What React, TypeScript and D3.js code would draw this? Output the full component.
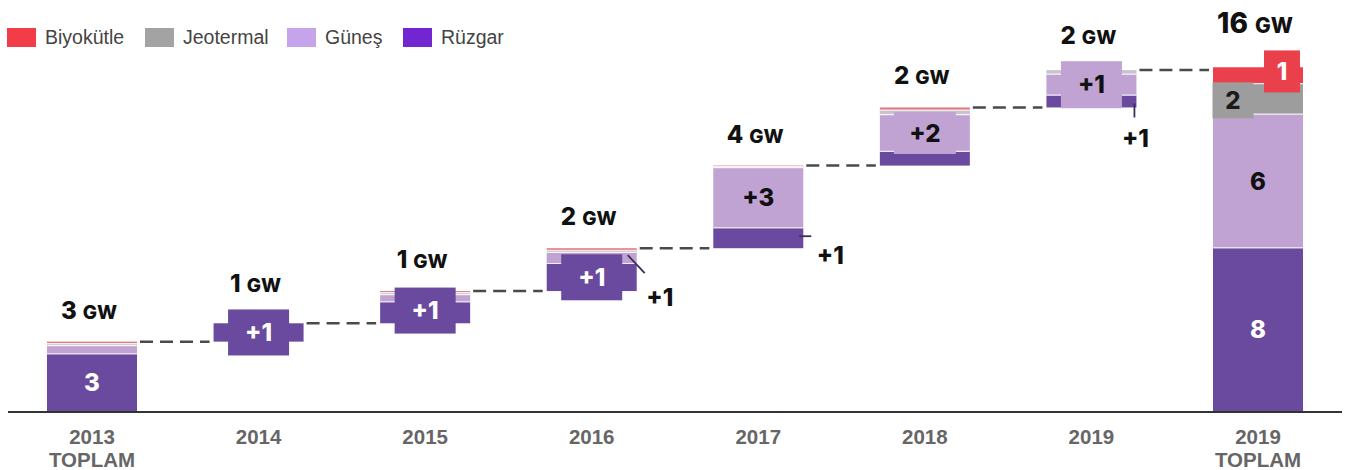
import React from 'react';
import * as d3 from 'd3';

// ---------------- DATA ----------------
const categories = ['2013 TOPLAM', '2014', '2015', '2016', '2017', '2018', '2019', '2019 TOPLAM'];
const isTotal = [true, false, false, false, false, false, false, true];
const seriesKeys = ['wind', 'solar', 'geo', 'bio']; // stack order bottom -> top
const legendNames = ['Biyokütle', 'Jeotermal', 'Güneş', 'Rüzgar'];
const legendKeys = ['bio', 'geo', 'solar', 'wind'];

// estimated bar heights (GW)
const windValues = [2.8, 0.9, 1.05, 1.35, 1.0, 0.7, 0.6, 8.0];
const solarValues = [0.4, 0, 0.35, 0.55, 2.95, 1.8, 1.03, 6.55];
const geoValues = [0.1, 0, 0.1, 0.1, 0.05, 0.22, 0.2, 1.5];
const bioValues = [0.1, 0, 0.08, 0.1, 0.05, 0.13, 0, 0.8];

// printed labels
const totalLabels = ['3', '1', '1', '2', '4', '2', '2', '16'];
const windLabels = ['3', '+1', '+1', '+1', '+1', '', '+1', '8'];
const solarLabels = ['', '', '', '+1', '+3', '+2', '+1', '6'];
const geoLabels = ['', '', '', '', '', '', '', '2'];
const bioLabels = ['', '', '', '', '', '', '', '1'];

// ---------------- STYLE / LAYOUT ----------------
const W = 1351;
const H = 470;
const BASE_Y = 411;
const PX_PER_GW = 20.4;
const BAR_W = 90;

const barColors: Record<string, string> = {
  wind: '#6a4a9e',
  solar: '#c0a3d3',
  geo: '#9d9d9d',
  bio: '#e9404b',
};
const thinColors: Record<string, string> = {
  geo: '#c9c3cf',
  bio: '#e07a80',
};
const legendColors: Record<string, string> = {
  bio: '#f23d48',
  geo: '#a3a3a3',
  solar: '#c6a4ec',
  wind: '#7126d0',
};
const labelColors: Record<string, string> = {
  wind: '#ffffff',
  solar: '#111111',
  geo: '#1a1a1a',
  bio: '#ffffff',
};
const legendX = [7, 145, 287, 403];

// label boxes: [categoryIndex, seriesKey, dx, dy, width, height]
const labelBoxes: [number, string, number, number, number, number][] = [
  [1, 'wind', 0, 0, 61, 46],
  [2, 'wind', 0, -2, 61, 46],
  [3, 'wind', 0, 0, 61, 46],
  [5, 'solar', 0, 0, 62, 42],
  [6, 'solar', 0, 0, 61, 47],
  [7, 'geo', -25, 1.5, 41, 36],
  [7, 'bio', 24, -4, 36, 42],
];
// outside callouts: [categoryIndex, seriesKey, leader x1,y1,x2,y2 (rel. to right edge / base), label dx, dy]
const callouts: [number, string, number, number, number, number, number, number][] = [
  [3, 'solar', -9, -36, 8, -18, 23, 6],
  [4, 'wind', -4, -12, 8, -12, 27, 7],
  [6, 'wind', -2, -4, -2, 10, -1, 31],
];

const FONT_NUM = "'Inter', 'Liberation Sans', Arial, sans-serif";
const FONT_TXT = "'Liberation Sans', Arial, sans-serif";

export default function App() {
  const x = d3.scalePoint<string>().domain(categories).range([92, 1258]);
  const maxV = BASE_Y / PX_PER_GW;
  const y = d3.scaleLinear().domain([0, maxV]).range([BASE_Y, 0]);

  const valuesByKey: Record<string, number[]> = {
    wind: windValues,
    solar: solarValues,
    geo: geoValues,
    bio: bioValues,
  };
  const labelsByKey: Record<string, string[]> = {
    wind: windLabels,
    solar: solarLabels,
    geo: geoLabels,
    bio: bioLabels,
  };

  // waterfall layout
  const bars: any[] = [];
  let level = 0;
  categories.forEach((c, i) => {
    const base = isTotal[i] ? 0 : level;
    let cur = base;
    const segs = seriesKeys.map((k) => {
      const v = valuesByKey[k][i];
      const s = { key: k, y0: cur, y1: cur + v, v };
      cur += v;
      return s;
    });
    level = cur;
    bars.push({ cat: c, i, base, top: cur, segs, cx: x(c) as number });
  });

  const segOf = (i: number, k: string) => bars[i].segs.find((s: any) => s.key === k);
  const segFill = (k: string, v: number) =>
    v < 0.3 && thinColors[k] ? thinColors[k] : barColors[k];

  return (
    <svg
      width={W}
      height={H}
      style={{ position: 'absolute', left: 0, top: 0, background: '#fff' }}
    >
      {/* legend */}
      {legendKeys.map((k, j) => (
        <g key={k} transform={`translate(${legendX[j]},28)`}>
          <rect width={29} height={19} fill={legendColors[k]} />
          <text x={38} y={16} fontFamily={FONT_TXT} fontSize={19.5} fill="#444">
            {legendNames[j]}
          </text>
        </g>
      ))}

      {/* connectors */}
      {bars.slice(0, -1).map((b, i) => {
        const nb = bars[i + 1];
        return (
          <line
            key={`c${i}`}
            x1={b.cx + BAR_W / 2 + 3}
            x2={nb.cx - BAR_W / 2 - 4}
            y1={y(b.top)}
            y2={y(b.top)}
            stroke="#4a4a4a"
            strokeWidth={2.5}
            strokeDasharray="13 7"
          />
        );
      })}

      {/* bars */}
      {bars.map((b) => (
        <g key={b.cat}>
          {b.segs
            .filter((s: any) => s.v > 0)
            .map((s: any) => (
              <rect
                key={s.key}
                x={b.cx - BAR_W / 2}
                width={BAR_W}
                y={y(s.y1)}
                height={y(s.y0) - y(s.y1)}
                fill={segFill(s.key, s.v)}
              />
            ))}
          {b.segs
            .filter((s: any) => s.v > 0 && s.y0 > b.base)
            .map((s: any) => (
              <line
                key={`sep${s.key}`}
                x1={b.cx - BAR_W / 2}
                x2={b.cx + BAR_W / 2}
                y1={y(s.y0)}
                y2={y(s.y0)}
                stroke="#ffffff"
                strokeOpacity={0.8}
                strokeWidth={1.2}
              />
            ))}
        </g>
      ))}

      {/* label boxes */}
      {labelBoxes.map(([i, k, dx, dy, w, h]) => {
        const s = segOf(i, k);
        const cy = (y(s.y0) + y(s.y1)) / 2 + dy;
        const cx = bars[i].cx + dx;
        return (
          <rect
            key={`lb${i}${k}`}
            x={cx - w / 2}
            y={cy - h / 2}
            width={w}
            height={h}
            fill={barColors[k]}
          />
        );
      })}

      {/* callout leaders */}
      {callouts.map(([i, k, x1, y1, x2, y2]) => {
        const b = bars[i];
        const rx = b.cx + BAR_W / 2;
        const by = y(b.base);
        return (
          <line
            key={`cl${i}${k}`}
            x1={rx + x1}
            y1={by + y1}
            x2={rx + x2}
            y2={by + y2}
            stroke="#3c2f55"
            strokeWidth={1.8}
          />
        );
      })}

      {/* segment labels */}
      {bars.map((b) =>
        seriesKeys.map((k) => {
          const txt = labelsByKey[k][b.i];
          if (!txt) return null;
          const co = callouts.find((c) => c[0] === b.i && c[1] === k);
          const s = segOf(b.i, k);
          let cx = b.cx;
          let cy = (y(s.y0) + y(s.y1)) / 2;
          let fill = labelColors[k];
          if (co) {
            cx = b.cx + BAR_W / 2 + co[6];
            cy = y(b.base) + co[7];
            fill = '#111';
          } else {
            const bx = labelBoxes.find((lb) => lb[0] === b.i && lb[1] === k);
            if (bx) {
              cx += bx[2];
              cy += bx[3];
            }
          }
          return (
            <text
              key={`sl${b.i}${k}`}
              x={cx}
              y={cy}
              dy="0.36em"
              textAnchor="middle"
              fontFamily={FONT_NUM}
              fontWeight={800}
              fontSize={24}
              fill={fill}
            >
              {txt}
            </text>
          );
        })
      )}

      {/* total labels above bars */}
      {bars.map((b) => {
        let top = y(b.top) - 23;
        labelBoxes
          .filter((lb) => lb[0] === b.i)
          .forEach((lb) => {
            const s = segOf(b.i, lb[1]);
            const cy = (y(s.y0) + y(s.y1)) / 2 + lb[3];
            top = Math.min(top, cy - lb[5] / 2 - 17);
          });
        const big = b.i === categories.length - 1;
        return (
          <text
            key={`tl${b.i}`}
            x={b.cx - 3}
            y={top}
            textAnchor="middle"
            fontFamily={FONT_NUM}
            fontWeight={800}
            fill="#111"
          >
            <tspan fontSize={big ? 28 : 24}>{totalLabels[b.i]}</tspan>
            <tspan fontSize={big ? 21 : 19} dx={big ? 7 : 6}>
              GW
            </tspan>
          </text>
        );
      })}

      {/* axis line */}
      <line x1={8} x2={1342} y1={412} y2={412} stroke="#333" strokeWidth={2} />

      {/* x labels */}
      {categories.map((c) => {
        const parts = c.split(' ');
        return (
          <text
            key={`xl${c}`}
            x={x(c) as number}
            y={444}
            textAnchor="middle"
            fontFamily={FONT_TXT}
            fontWeight={700}
            fontSize={20.5}
            fill="#666"
          >
            {parts.map((p, j) => (
              <tspan key={j} x={x(c) as number} dy={j === 0 ? 0 : 23}>
                {p}
              </tspan>
            ))}
          </text>
        );
      })}
    </svg>
  );
}
